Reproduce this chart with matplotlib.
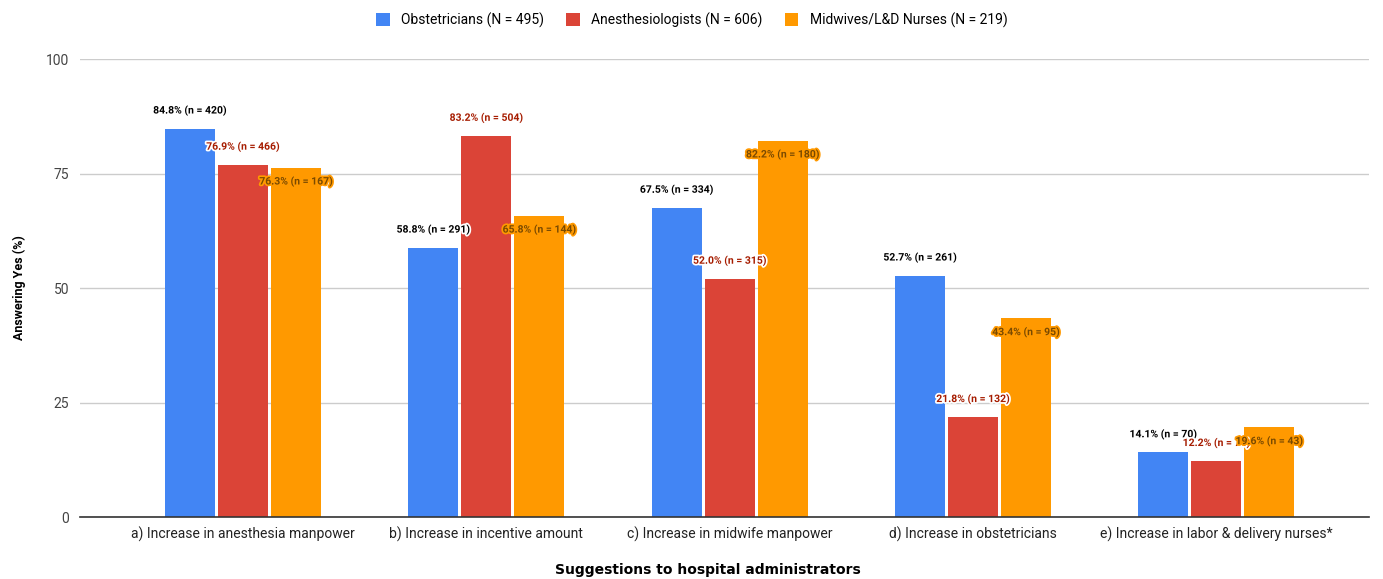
import matplotlib
matplotlib.use("Agg")
import matplotlib.pyplot as plt
import matplotlib.patheffects as pe
import numpy as np

categories = ["a) Increase in anesthesia manpower", "b) Increase in incentive amount",
              "c) Increase in midwife manpower", "d) Increase in obstetricians",
              "e) Increase in labor & delivery nurses*"]
series_names = ["Obstetricians (N = 495)", "Anesthesiologists (N = 606)", "Midwives/L&D Nurses (N = 219)"]
obst = [84.8, 58.8, 67.5, 52.7, 14.1]
obst_n = [420, 291, 334, 261, 70]
anes = [76.9, 83.2, 52.0, 21.8, 12.2]
anes_n = [466, 504, 315, 132, 74]
midw = [76.3, 65.8, 82.2, 43.4, 19.6]
midw_n = [167, 144, 180, 95, 43]
yticks = [0, 25, 50, 75, 100]

colors = ["#4285f4", "#db4437", "#ff9900"]
label_colors = ["#000000", "#a61c00", "#7a4a00"]
halo_colors = ["white", "white", "#ff9900"]
label_offsets = [4.0, 4.0, -3.0]

plt.rcParams['font.family'] = ['Roboto', 'DejaVu Sans']
fig = plt.figure(figsize=(13.83, 5.79), dpi=100)
ax = fig.add_axes([0.058, 0.107, 0.932, 0.791])

x = np.arange(len(categories))
w = 0.205
step = 0.218
data = [(obst, obst_n), (anes, anes_n), (midw, midw_n)]
for i, (vals, ns) in enumerate(data):
    xs = x + (i - 1) * step
    ax.bar(xs, vals, width=w, color=colors[i], label=series_names[i], zorder=3)
    for xi, v, n in zip(xs, vals, ns):
        t = ax.text(xi, v + label_offsets[i], f"{v:.1f}% (n = {n})", ha="center", va="center",
                    fontsize=7.5, fontweight="bold", color=label_colors[i], zorder=5)
        t.set_path_effects([pe.withStroke(linewidth=2.5, foreground=halo_colors[i])])

ax.set_xlim(-0.669, 4.628)
ax.set_ylim(0, 100)
ax.set_yticks(yticks)
ax.set_yticklabels([str(v) for v in yticks], fontsize=10, color="#444444")
ax.set_xticks(x)
ax.set_xticklabels(categories, fontsize=10, color="#222222")
ax.tick_params(axis="x", length=0, pad=7)
ax.tick_params(axis="y", length=0, pad=8)
ax.grid(axis="y", color="#cccccc", linewidth=1, zorder=0)
for s in ["top", "right", "left"]:
    ax.spines[s].set_visible(False)
ax.spines["bottom"].set_color("#333333")
ax.spines["bottom"].set_linewidth(1.2)
ax.spines["bottom"].set_zorder(4)

ax.set_ylabel("Answering Yes (%)", fontsize=9, fontweight="bold", labelpad=14)
fig.text(0.512, 0.016, "Suggestions to hospital administrators", fontsize=10, fontweight="black",
         family=["DejaVu Sans"], ha="center", va="center")

fig.legend(loc="upper center", bbox_to_anchor=(0.5, 1.0), ncol=3, frameon=False,
           fontsize=10, handlelength=1.0, handleheight=1.0, columnspacing=1.6, handletextpad=0.8)

fig.savefig("out.png", dpi=100)
